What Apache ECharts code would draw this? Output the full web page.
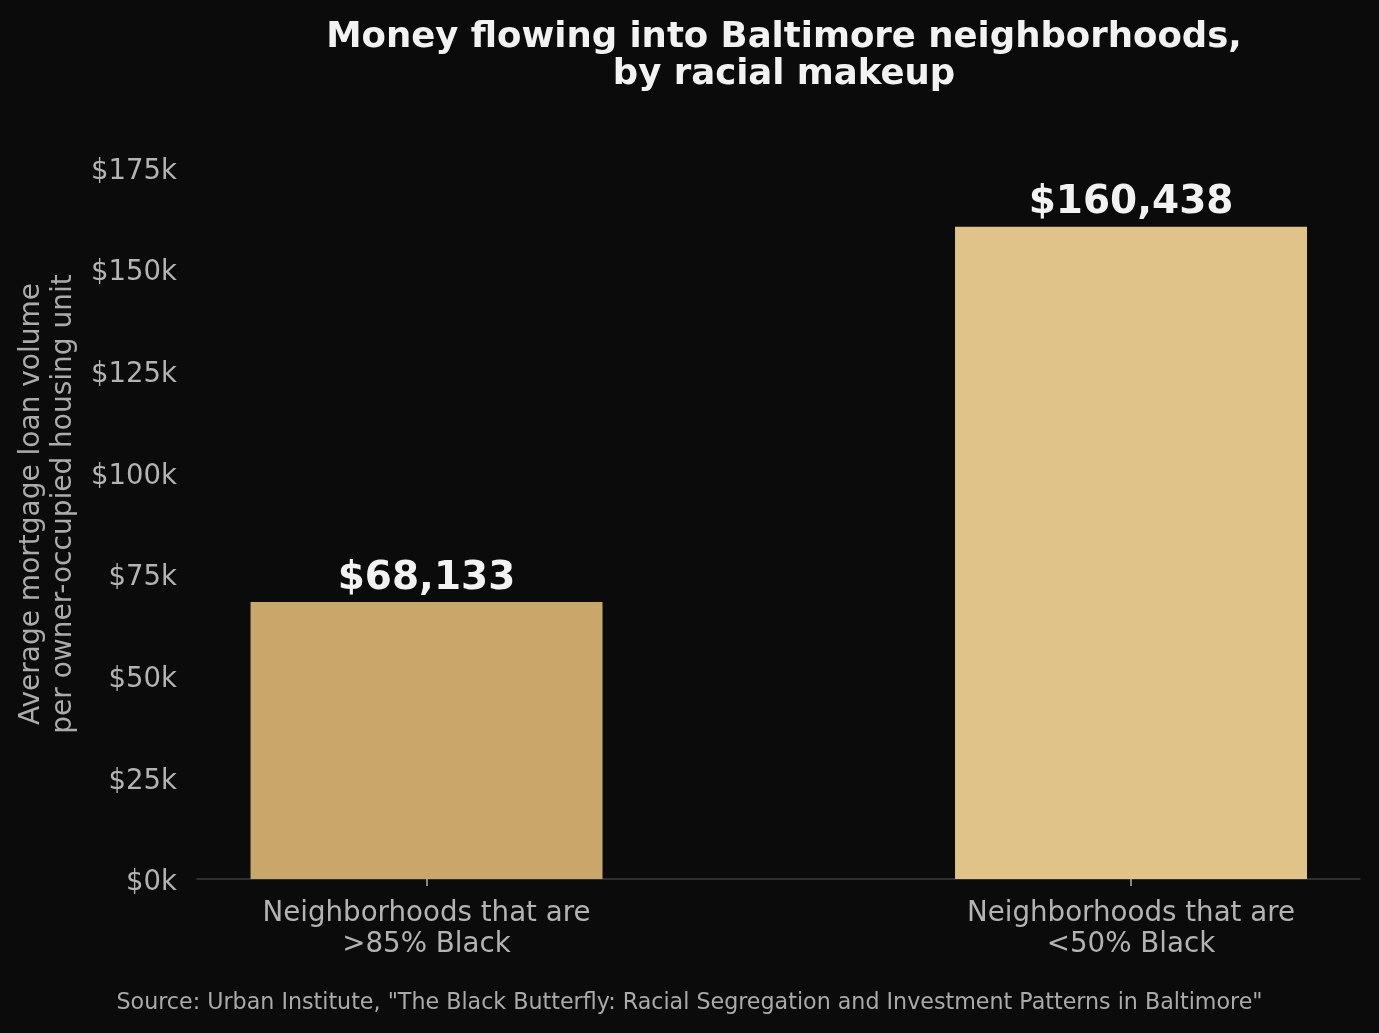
<!DOCTYPE html>
<html>
<head>
<meta charset="utf-8">
<title>Money flowing into Baltimore neighborhoods</title>
<script src="https://cdn.jsdelivr.net/npm/echarts@6/dist/echarts.min.js"></script>
<style>
  html, body { margin: 0; padding: 0; background: #0b0b0b; }
  #chart { width: 1379px; height: 1033px; }
</style>
</head>
<body>
<div id="chart"></div>
<script>
// data
var categories = ['Neighborhoods that are\n>85% Black', 'Neighborhoods that are\n<50% Black'];
var loanValues = [68133, 160438];
var barColors = ['#c9a76a', '#e0c389'];
var yTicks = [0, 25000, 50000, 75000, 100000, 125000, 150000, 175000];

var chart = echarts.init(document.getElementById('chart'));
var font = 'DejaVu Sans';

var barData = loanValues.map(function (v, i) {
    return { value: [i, v], itemStyle: { color: barColors[i] } };
});

var option = {
    backgroundColor: '#0b0b0b',
    animation: false,
    title: {
        text: 'Money flowing into Baltimore neighborhoods,\nby racial makeup',
        left: 779,
        textAlign: 'center',
        top: 14,
        textStyle: {
            color: '#f2f2f2',
            fontFamily: font,
            fontWeight: 'bold',
            fontSize: 35.5,
            lineHeight: 37
        }
    },
    grid: { left: 197, right: 19, top: 129, bottom: 154 },
    xAxis: {
        type: 'value',
        min: -0.3258,
        max: 1.325,
        splitLine: { show: false },
        axisLine: { show: true, onZero: false, lineStyle: { color: '#3c3c3c', width: 1.5 } },
        axisTick: {
            show: true,
            customValues: [0, 1],
            length: 7,
            lineStyle: { color: '#b0b0b0', width: 1.5 }
        },
        axisLabel: {
            customValues: [0, 1],
            color: '#b3b3b3',
            fontFamily: font,
            fontSize: 27.7,
            lineHeight: 31,
            margin: 19,
            formatter: function (v) { return categories[Math.round(v)]; }
        }
    },
    yAxis: {
        type: 'value',
        min: 0,
        max: 184504,
        name: 'Average mortgage loan volume\nper owner-occupied housing unit',
        nameLocation: 'middle',
        nameGap: 115,
        nameTextStyle: {
            color: '#ababab',
            fontFamily: font,
            fontSize: 28,
            lineHeight: 32
        },
        splitLine: { show: false },
        axisLine: { show: false },
        axisTick: { show: false },
        axisLabel: {
            customValues: yTicks,
            color: '#b3b3b3',
            fontFamily: font,
            fontSize: 27.5,
            margin: 20,
            lineHeight: 8,
            verticalAlign: 'top',
            formatter: function (v) { return '$' + Math.round(v / 1000) + 'k'; }
        }
    },
    series: [{
        type: 'bar',
        barWidth: 352,
        data: barData,
        label: {
            show: true,
            position: 'top',
            distance: 4,
            color: '#f2f2f2',
            fontFamily: font,
            fontWeight: 'bold',
            fontSize: 39,
            formatter: function (p) { return '$' + p.value[1].toLocaleString('en-US'); }
        }
    }],
    graphic: [{
        type: 'text',
        left: 'center',
        top: 992,
        style: {
            text: 'Source: Urban Institute, "The Black Butterfly: Racial Segregation and Investment Patterns in Baltimore"',
            fill: '#aaaaaa',
            font: '22.2px "DejaVu Sans"'
        }
    }]
};

chart.setOption(option);
window.onresize = function () {
    chart.resize();
};
</script>
</body>
</html>
